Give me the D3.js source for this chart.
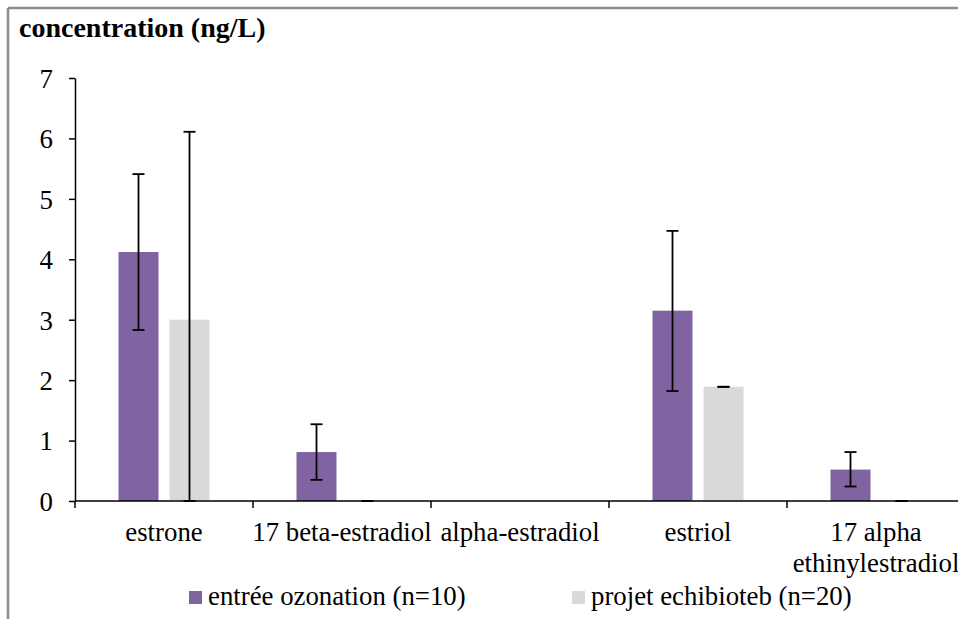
<!DOCTYPE html>
<html>
<head>
<meta charset="utf-8">
<script src="https://cdn.jsdelivr.net/npm/d3@7"></script>
<style>
  html, body { margin: 0; padding: 0; background: #fff; }
  svg { display: block; font-family: "Liberation Serif", "Times New Roman", serif; }
</style>
</head>
<body>
<svg id="chart" width="958" height="619"></svg>
<script>
// ---- data ----
const categories = ["estrone", "17 beta-estradiol", "alpha-estradiol", "estriol", "17 alpha ethinylestradiol"];
const seriesNames = ["entrée ozonation (n=10)", "projet echibioteb (n=20)"];
const seriesColors = ["#8064a2", "#d9d9d9"];
const ozonationValues = [4.12, 0.81, 0, 3.15, 0.52];
const ozonationLow    = [2.83, 0.35, null, 1.82, 0.24];
const ozonationHigh   = [5.41, 1.27, null, 4.47, 0.81];
const echibiotebValues = [3.0, 0.0, 0, 1.89, 0.0];
const echibiotebLow    = [0.0, 0.0, null, 1.89, 0.0];
const echibiotebHigh   = [6.11, 0.0, null, 1.89, 0.0];
const yTicks = [0, 1, 2, 3, 4, 5, 6, 7];
const yTitle = "concentration (ng/L)";

const series = [
  { name: seriesNames[0], color: seriesColors[0], values: ozonationValues, low: ozonationLow, high: ozonationHigh },
  { name: seriesNames[1], color: seriesColors[1], values: echibiotebValues, low: echibiotebLow, high: echibiotebHigh }
];

// ---- layout ----
const FONT = "Liberation Serif, Times New Roman, serif";
const FS = 26.8;
const svg = d3.select("#chart");
const W = 958, H = 619;
const x0 = 75, yBase = 501, yTop = 78;

// frame (top and left border)
svg.append("line").attr("x1", 8).attr("x2", W).attr("y1", 8).attr("y2", 8)
  .attr("stroke", "#8c8c8c").attr("stroke-width", 2.5);
svg.append("line").attr("x1", 8).attr("x2", 8).attr("y1", 8).attr("y2", H)
  .attr("stroke", "#8c8c8c").attr("stroke-width", 2.5);

const x = d3.scaleBand().domain(categories).range([x0, x0 + 178 * categories.length]).paddingInner(0).paddingOuter(0);
const x1 = d3.scaleBand().domain(seriesNames).range([0, 91]).paddingInner(11 / 51).paddingOuter(0);
const y = d3.scaleLinear().domain([0, 7]).range([yBase, yTop]);
const innerOffset = x.bandwidth() / 2 - 45.5;

// title
svg.append("text").attr("x", 19).attr("y", 37)
  .attr("font-family", FONT).attr("font-size", 28).attr("font-weight", "bold").attr("fill", "#000")
  .text(yTitle);

// bars
const g = svg.append("g");
series.forEach(s => {
  g.selectAll(null).data(categories.map((c, i) => ({ c, v: s.values[i] })))
    .enter().append("rect")
    .attr("x", d => x(d.c) + innerOffset + x1(s.name))
    .attr("width", x1.bandwidth())
    .attr("y", d => y(d.v))
    .attr("height", d => y(0) - y(d.v))
    .attr("fill", s.color);
});

// error bars
series.forEach(s => {
  const data = categories.map((c, i) => ({ c, lo: s.low[i], hi: s.high[i] })).filter(d => d.lo !== null);
  const eg = g.selectAll(null).data(data).enter().append("g")
    .attr("stroke", "#000").attr("stroke-width", 1.8);
  const cx = d => x(d.c) + innerOffset + x1(s.name) + x1.bandwidth() / 2;
  eg.append("line").attr("x1", cx).attr("x2", cx).attr("y1", d => y(d.lo)).attr("y2", d => y(d.hi));
  eg.append("line").attr("x1", d => cx(d) - 6).attr("x2", d => cx(d) + 6).attr("y1", d => y(d.lo)).attr("y2", d => y(d.lo));
  eg.append("line").attr("x1", d => cx(d) - 6).attr("x2", d => cx(d) + 6).attr("y1", d => y(d.hi)).attr("y2", d => y(d.hi));
});

// y axis
const yAxis = d3.axisLeft(y).tickValues(yTicks).tickFormat(d3.format("d")).tickSize(6).tickSizeOuter(0);
const ya = svg.append("g").attr("transform", `translate(${x0},0)`).call(yAxis);
ya.attr("font-family", FONT);
ya.select(".domain").attr("stroke", "#000").attr("stroke-width", 1.5);
ya.selectAll(".tick line").attr("stroke", "#000").attr("stroke-width", 1.5);
ya.selectAll(".tick text").attr("font-size", FS).attr("fill", "#000")
  .attr("x", -22).attr("dy", "0.35em");

// x axis
const xa = svg.append("g").attr("transform", `translate(0,${yBase})`);
xa.append("line").attr("x1", x0).attr("x2", W).attr("y1", 0).attr("y2", 0)
  .attr("stroke", "#000").attr("stroke-width", 1.5);
const boundaries = categories.map(c => x(c)).concat([x(categories[categories.length - 1]) + x.bandwidth()]);
xa.selectAll(null).data(boundaries).enter().append("line")
  .attr("x1", d => d).attr("x2", d => d).attr("y1", 0).attr("y2", 7)
  .attr("stroke", "#000").attr("stroke-width", 1.5);

// category labels
const labelLines = {
  "17 alpha ethinylestradiol": ["17 alpha", "ethinylestradiol"]
};
categories.forEach(c => {
  const lines = labelLines[c] || [c];
  const cx = x(c) + x.bandwidth() / 2;
  const t = svg.append("text").attr("x", cx).attr("y", 541)
    .attr("text-anchor", "middle").attr("font-family", FONT).attr("font-size", FS).attr("fill", "#000");
  lines.forEach((l, i) => t.append("tspan").attr("x", cx).attr("dy", i === 0 ? 0 : 31).text(l));
});

// legend
const legendPos = [189, 572];
series.forEach((s, i) => {
  svg.append("rect").attr("x", legendPos[i]).attr("y", 591).attr("width", 13).attr("height", 13).attr("fill", s.color);
  svg.append("text").attr("x", legendPos[i] + 19).attr("y", 605)
    .attr("font-family", FONT).attr("font-size", FS).attr("fill", "#000").text(s.name);
});
</script>
</body>
</html>
